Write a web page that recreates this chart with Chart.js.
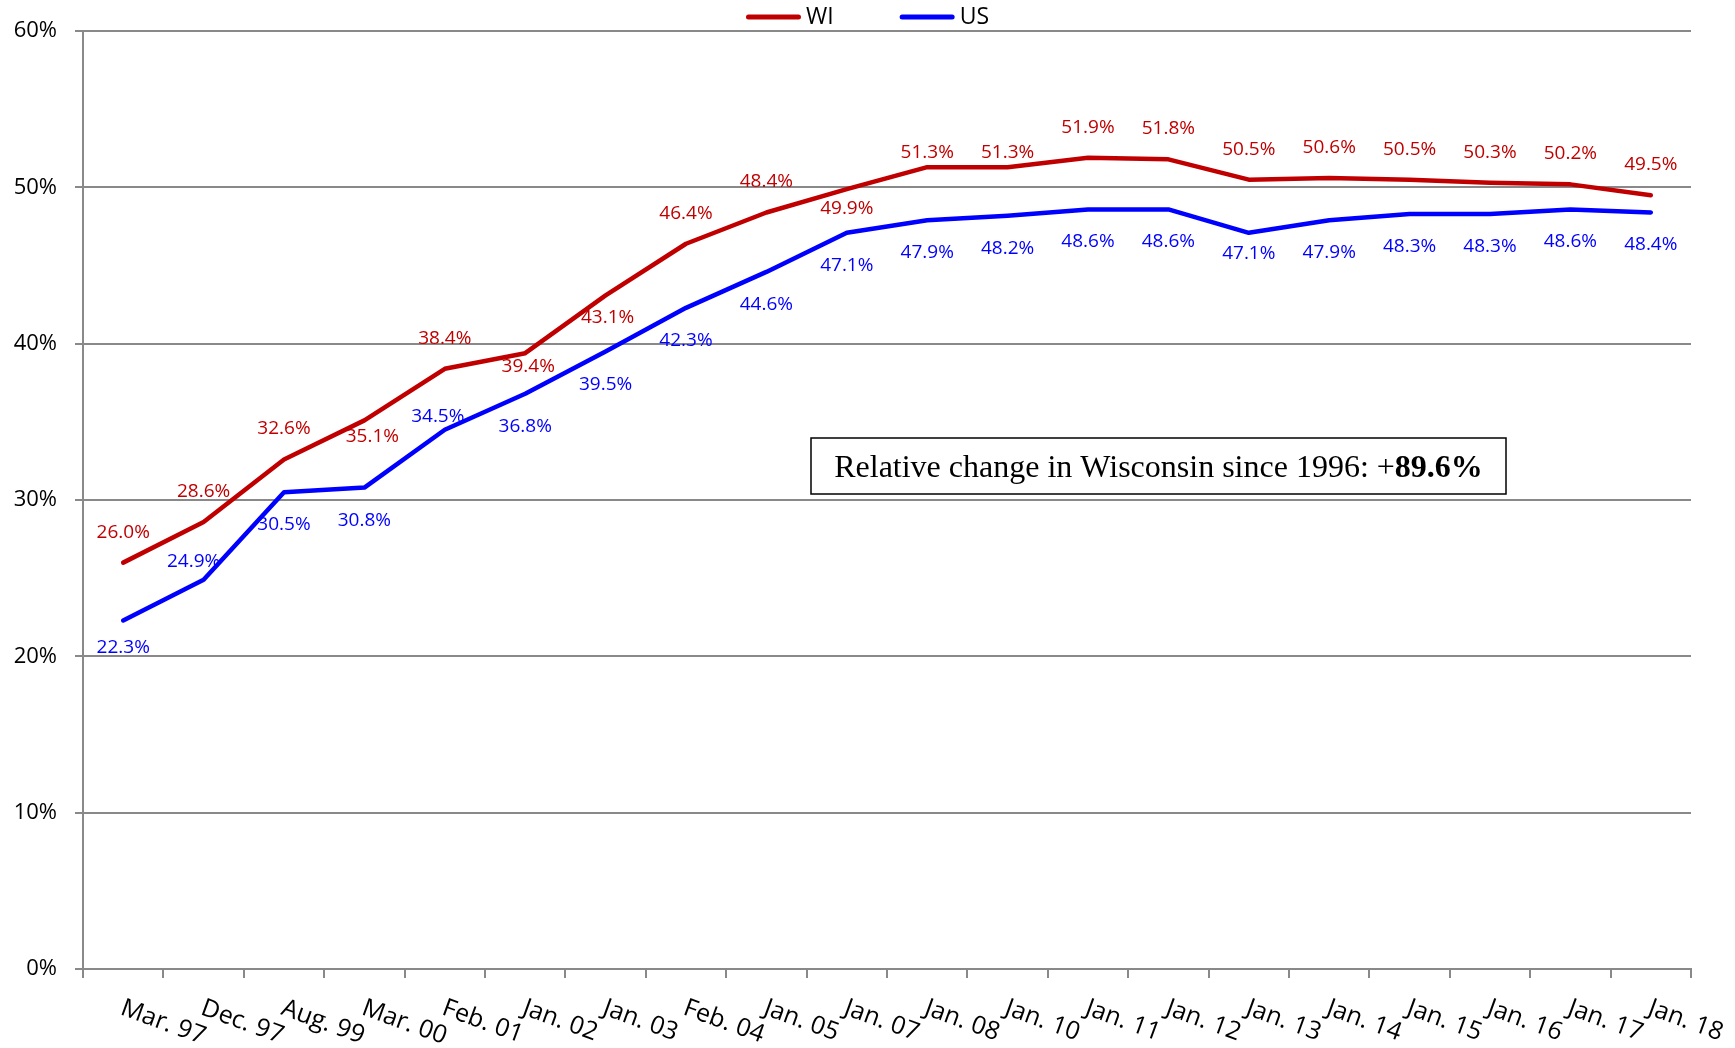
<!DOCTYPE html>
<html>
<head>
<meta charset="utf-8">
<script src="https://cdn.jsdelivr.net/npm/chart.js@4.4.1/dist/chart.umd.min.js"></script>
<style>
html,body{margin:0;padding:0;background:#fff;overflow:hidden}
#wrap{width:1735px;height:1048px;position:relative}
</style>
</head>
<body>
<div id="wrap"><canvas id="c" width="1735" height="1048"></canvas></div>
<script>
// ---- data ----
const categories = ['Mar. 97','Dec. 97','Aug. 99','Mar. 00','Feb. 01','Jan. 02','Jan. 03','Feb. 04','Jan. 05','Jan. 07','Jan. 08','Jan. 10','Jan. 11','Jan. 12','Jan. 13','Jan. 14','Jan. 15','Jan. 16','Jan. 17','Jan. 18'];
const wiValues = [26.0,28.6,32.6,35.1,38.4,39.4,43.1,46.4,48.4,49.9,51.3,51.3,51.9,51.8,50.5,50.6,50.5,50.3,50.2,49.5];
const usValues = [22.3,24.9,30.5,30.8,34.5,36.8,39.5,42.3,44.6,47.1,47.9,48.2,48.6,48.6,47.1,47.9,48.3,48.3,48.6,48.4];
const yTickLabels = ['0%','10%','20%','30%','40%','50%','60%'];
const seriesNames = ['WI','US'];
const noteText = 'Relative change in Wisconsin since 1996: +';
const noteValue = '89.6%';

// ---- styles ----
const WI_COLOR = '#C00000';
const US_COLOR = '#0000FF';
const GRID = '#898989';
const ABOVE = -30.5, BELOW = 32.5;
const wiLabelOffsets = wiValues.map(() => [0, ABOVE]);
wiLabelOffsets[3] = [8, 16];
wiLabelOffsets[5] = [3, 13];
wiLabelOffsets[6] = [2, 22];
wiLabelOffsets[9] = [0, 19.5];
wiLabelOffsets[10] = [0, -15];
wiLabelOffsets[11] = [0, -15];
const usLabelOffsets = usValues.map(() => [0, BELOW]);
usLabelOffsets[0] = [0, 27];
usLabelOffsets[1] = [-10, -18];
usLabelOffsets[4] = [-7, -13];
usLabelOffsets[14] = [0, 21];
const labelOffsets = [wiLabelOffsets, usLabelOffsets];

const customDraw = {
  id: 'customDraw',
  afterDatasetsDraw(chart) {
    const ctx = chart.ctx;
    ctx.save();
    ctx.font = '19px "Open Sans"';
    ctx.textAlign = 'center';
    ctx.textBaseline = 'middle';
    chart.data.datasets.forEach((ds, di) => {
      const meta = chart.getDatasetMeta(di);
      ctx.fillStyle = ds.borderColor;
      meta.data.forEach((pt, i) => {
        const o = labelOffsets[di][i];
        ctx.fillText(ds.data[i].toFixed(1) + '%', pt.x + o[0], pt.y + o[1]);
      });
    });
    ctx.restore();
  },
  afterDraw(chart) {
    const ctx = chart.ctx;
    const xs = chart.scales.x;
    const ca = chart.chartArea;
    // x-axis category labels (rotated clockwise)
    ctx.save();
    ctx.font = '25px "Open Sans"';
    ctx.fillStyle = '#000';
    ctx.textAlign = 'left';
    ctx.textBaseline = 'alphabetic';
    chart.data.labels.forEach((lab, i) => {
      const x = xs.getPixelForValue(i);
      ctx.save();
      ctx.translate(x - 4, ca.bottom + 45);
      ctx.rotate(20 * Math.PI / 180);
      ctx.fillText(lab, 0, 0);
      ctx.restore();
    });
    ctx.restore();

    // legend
    ctx.save();
    ctx.font = '23px "Open Sans"';
    const lineLen = 55, gap = 5, itemGap = 66;
    const items = chart.data.datasets.map(ds => ({text: ds.label, color: ds.borderColor, w: ctx.measureText(ds.label).width}));
    let total = 0;
    items.forEach((it, i) => { total += lineLen + gap + it.w + (i ? itemGap : 0); });
    let x = chart.width / 2 - total / 2;
    const ly = 17;
    items.forEach((it) => {
      ctx.strokeStyle = it.color;
      ctx.lineWidth = 5;
      ctx.lineCap = 'round';
      ctx.beginPath();
      ctx.moveTo(x + 2.5, ly);
      ctx.lineTo(x + lineLen - 2.5, ly);
      ctx.stroke();
      ctx.fillStyle = '#000';
      ctx.textAlign = 'left';
      ctx.textBaseline = 'middle';
      ctx.fillText(it.text, x + lineLen + gap, ly);
      x += lineLen + gap + it.w + itemGap;
    });
    ctx.restore();

    // note box
    ctx.save();
    const bx = 811, by = 438, bw = 695, bh = 56;
    ctx.fillStyle = '#fff';
    ctx.fillRect(bx, by, bw, bh);
    ctx.strokeStyle = '#000';
    ctx.lineWidth = 1.5;
    ctx.strokeRect(bx, by, bw, bh);
    const fNorm = '32px "Liberation Serif", "Times New Roman", serif';
    const fBold = 'bold 32px "Liberation Serif", "Times New Roman", serif';
    ctx.font = fNorm;
    const w1 = ctx.measureText(noteText).width;
    ctx.font = fBold;
    const w2 = ctx.measureText(noteValue).width;
    let tx = bx + bw / 2 - (w1 + w2) / 2;
    ctx.fillStyle = '#000';
    ctx.textAlign = 'left';
    ctx.textBaseline = 'alphabetic';
    ctx.font = fNorm;
    ctx.fillText(noteText, tx, 477);
    ctx.font = fBold;
    ctx.fillText(noteValue, tx + w1, 477);
    ctx.restore();
  }
};

new Chart(document.getElementById('c').getContext('2d'), {
  type: 'line',
  data: {
    labels: categories,
    datasets: [
      {label: seriesNames[0], data: wiValues, borderColor: WI_COLOR, backgroundColor: WI_COLOR, borderWidth: 4.5,
       pointRadius: 0, pointHoverRadius: 0, tension: 0, borderCapStyle: 'round', borderJoinStyle: 'round', fill: false},
      {label: seriesNames[1], data: usValues, borderColor: US_COLOR, backgroundColor: US_COLOR, borderWidth: 4.5,
       pointRadius: 0, pointHoverRadius: 0, tension: 0, borderCapStyle: 'round', borderJoinStyle: 'round', fill: false}
    ]
  },
  options: {
    responsive: false,
    animation: false,
    devicePixelRatio: 1,
    layout: {padding: {top: 31, right: 44, left: 0, bottom: 0}},
    plugins: {legend: {display: false}, tooltip: {enabled: false}},
    scales: {
      x: {
        type: 'category',
        offset: true,
        grid: {offset: true, drawOnChartArea: false, drawTicks: true, tickLength: 9, color: GRID, lineWidth: 2},
        border: {display: true, color: GRID, width: 2},
        ticks: {display: false},
        afterFit(s) { s.height = 79; }
      },
      y: {
        min: 0, max: 60,
        ticks: {stepSize: 10, padding: 18, color: '#000', font: {family: 'Open Sans', size: 22},
                callback: (v, i) => yTickLabels[i]},
        grid: {color: GRID, lineWidth: 2, tickLength: 8, drawTicks: true},
        border: {display: true, color: GRID, width: 2},
        afterFit(s) { s.width = 83; }
      }
    }
  },
  plugins: [customDraw]
});
</script>
</body>
</html>
